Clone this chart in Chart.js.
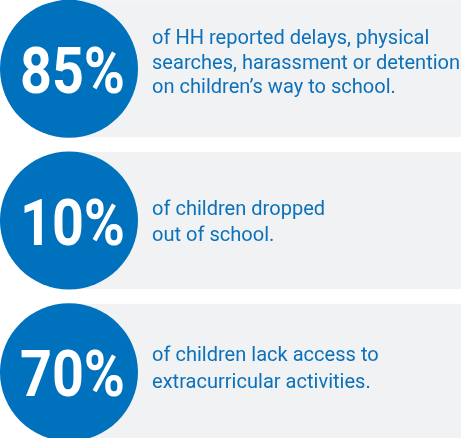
<!DOCTYPE html>
<html>
<head>
<meta charset="utf-8">
<script src="https://cdn.jsdelivr.net/npm/chart.js@4/dist/chart.umd.min.js"></script>
<style>
  html, body { margin: 0; padding: 0; background: #ffffff; overflow: hidden; }
  #wrap { width: 461px; height: 438px; overflow: hidden; position: relative; }
  canvas { display: block; margin-top: -7px; }
</style>
</head>
<body>
<div id="wrap"><canvas id="c" width="461" height="455"></canvas></div>
<script>
// ---- data ----
const categories = ['Harassment on way to school', 'Dropped out', 'No extracurricular'];
const percentages = [85, 10, 70];
const statements = [
  ['of HH reported delays, physical', 'searches, harassment or detention', 'on children\u2019s way to school.'],
  ['of children dropped', 'out of school.'],
  ['of children lack access to', 'extracurricular activities.']
];
const panelSpan = [1, 1, 1];
const circleAnchor = [0, 0, 0];

// ---- styling ----
const BLUE = '#0071bc';
const TEXT_BLUE = '#0d71b9';
const GRAY = '#f1f2f4';

// per-panel text layout (offset of first baseline from circle centre, line height)
const textLayout = [
  { first: -24.5, lh: 24.3 },
  { first: -6, lh: 26.7 },
  { first: -11, lh: 26.7 }
];

const labelPlugin = {
  id: 'labels',
  afterDatasetsDraw(chart) {
    const ctx = chart.ctx;
    const meta = chart.getDatasetMeta(1);
    meta.data.forEach((pt, i) => {
      const cx = pt.x, cy = pt.y;
      // big percentage
      ctx.save();
      ctx.fillStyle = '#ffffff';
      ctx.font = 'bold 64px Roboto';
      ctx.textAlign = 'center';
      ctx.textBaseline = 'alphabetic';
      ctx.translate(cx + 3.5, cy + 24);
      ctx.scale(0.87, 1);
      ctx.fillText(percentages[i] + '%', 0, 0);
      ctx.restore();
      // statement
      ctx.save();
      ctx.fillStyle = TEXT_BLUE;
      ctx.font = '21px Roboto';
      ctx.textAlign = 'left';
      ctx.textBaseline = 'alphabetic';
      const lay = textLayout[i];
      statements[i].forEach((line, k) => {
        ctx.save();
        ctx.translate(cx + 83, cy + lay.first + k * lay.lh);
        ctx.scale(0.955, 1);
        ctx.fillText(line, 0, 0);
        ctx.restore();
      });
      ctx.restore();
    });
  }
};

new Chart(document.getElementById('c'), {
  type: 'bar',
  data: {
    labels: categories,
    datasets: [
      {
        type: 'bar',
        data: panelSpan,
        backgroundColor: GRAY,
        borderWidth: 0,
        categoryPercentage: 1,
        barPercentage: 0.903,
        order: 2
      },
      {
        type: 'scatter',
        data: circleAnchor.map((x, i) => ({ x: x, y: i })),
        backgroundColor: BLUE,
        borderWidth: 0,
        pointRadius: 69,
        pointHoverRadius: 69,
        clip: false,
        order: 0
      }
    ]
  },
  options: {
    indexAxis: 'y',
    responsive: false,
    animation: false,
    events: [],
    layout: { padding: 0, autoPadding: false },
    plugins: { legend: { display: false }, tooltip: { enabled: false } },
    scales: {
      x: { type: 'linear', min: -0.176, max: 1, display: false, grid: { display: false } },
      y: { type: 'category', offset: true, display: false, grid: { display: false } }
    }
  },
  plugins: [labelPlugin]
});
</script>
</body>
</html>
